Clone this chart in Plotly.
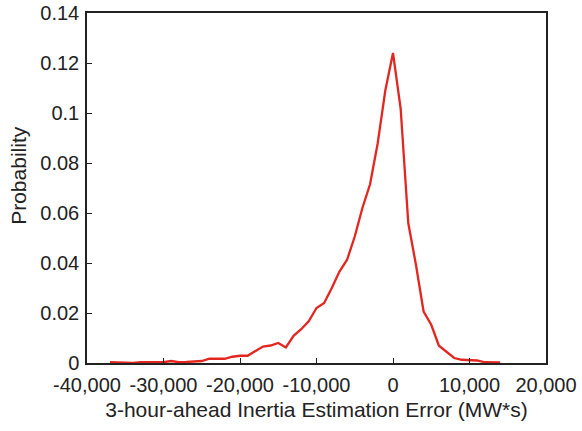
import plotly.graph_objects as go

# Binned 3-hour-ahead inertia estimation error (MW*s) and its probability
error_mws = [
    -37000, -36000, -35000, -34000, -33000, -32000, -31000, -30000, -29000, -28000,
    -27000, -26000, -25000, -24000, -23000, -22000, -21000, -20000, -19000, -18000,
    -17000, -16000, -15000, -14000, -13000, -12000, -11000, -10000, -9000, -8000,
    -7000, -6000, -5000, -4000, -3000, -2000, -1000, 0, 1000, 2000,
    3000, 4000, 5000, 6000, 7000, 8000, 9000, 10000, 11000, 12000,
    13000, 14000,
]
probability = [
    0.0003, 0.0002, 0.0000, 0.0000, 0.0003, 0.0003, 0.0003, 0.0003, 0.0008, 0.0003,
    0.0004, 0.0005, 0.0008, 0.0017, 0.0017, 0.0017, 0.0025, 0.0029, 0.0029, 0.0048,
    0.0066, 0.0070, 0.0080, 0.0062, 0.0109, 0.0135, 0.0168, 0.0220, 0.0240, 0.0300,
    0.0366, 0.0413, 0.0506, 0.0620, 0.0715, 0.0879, 0.1091, 0.1240, 0.1018, 0.0559,
    0.0393, 0.0206, 0.0153, 0.0069, 0.0046, 0.0020, 0.0013, 0.0012, 0.0010, 0.0003,
    0.0002, 0.0002,
]

x_tick_vals = [-40000, -30000, -20000, -10000, 0, 10000, 20000]
x_tick_text = ["-40,000", "-30,000", "-20,000", "-10,000", "0", "10,000", "20,000"]
y_tick_vals = [0, 0.02, 0.04, 0.06, 0.08, 0.1, 0.12, 0.14]
y_tick_text = ["0", "0.02", "0.04", "0.06", "0.08", "0.1", "0.12", "0.14"]

font_family = "Liberation Sans, Arial, sans-serif"
ink = "#222222"

fig = go.Figure(
    go.Scatter(
        x=error_mws,
        y=probability,
        mode="lines",
        line=dict(color="#e3261f", width=2.3),
        showlegend=False,
    )
)

axis_common = dict(
    showgrid=False,
    zeroline=False,
    showline=True,
    linecolor=ink,
    linewidth=1.5,
    mirror=True,
    ticks="inside",
    ticklen=5,
    tickwidth=1,
    tickcolor=ink,
    automargin=False,
    tickfont=dict(family=font_family, size=20, color=ink),
)

fig.update_layout(
    width=582,
    height=431,
    margin=dict(l=87, r=36, t=13, b=68),
    paper_bgcolor="white",
    plot_bgcolor="white",
    font=dict(family=font_family, color=ink),
    xaxis=dict(
        range=[-40000, 20000],
        tickvals=x_tick_vals,
        ticktext=x_tick_text,
        ticklabelstandoff=3,
        title=dict(
            text="3-hour-ahead Inertia Estimation Error (MW*s)",
            font=dict(family=font_family, size=21, color=ink),
            standoff=8,
        ),
        **axis_common,
    ),
    yaxis=dict(
        range=[0, 0.14],
        tickvals=y_tick_vals,
        ticktext=y_tick_text,
        ticklabelstandoff=2,
        **axis_common,
    ),
    annotations=[
        dict(
            text="Probability",
            textangle=-90,
            xref="paper",
            yref="paper",
            x=-0.148,
            y=0.535,
            xanchor="center",
            yanchor="middle",
            showarrow=False,
            font=dict(family=font_family, size=21, color=ink),
        )
    ],
)

fig.write_html("out.html")
